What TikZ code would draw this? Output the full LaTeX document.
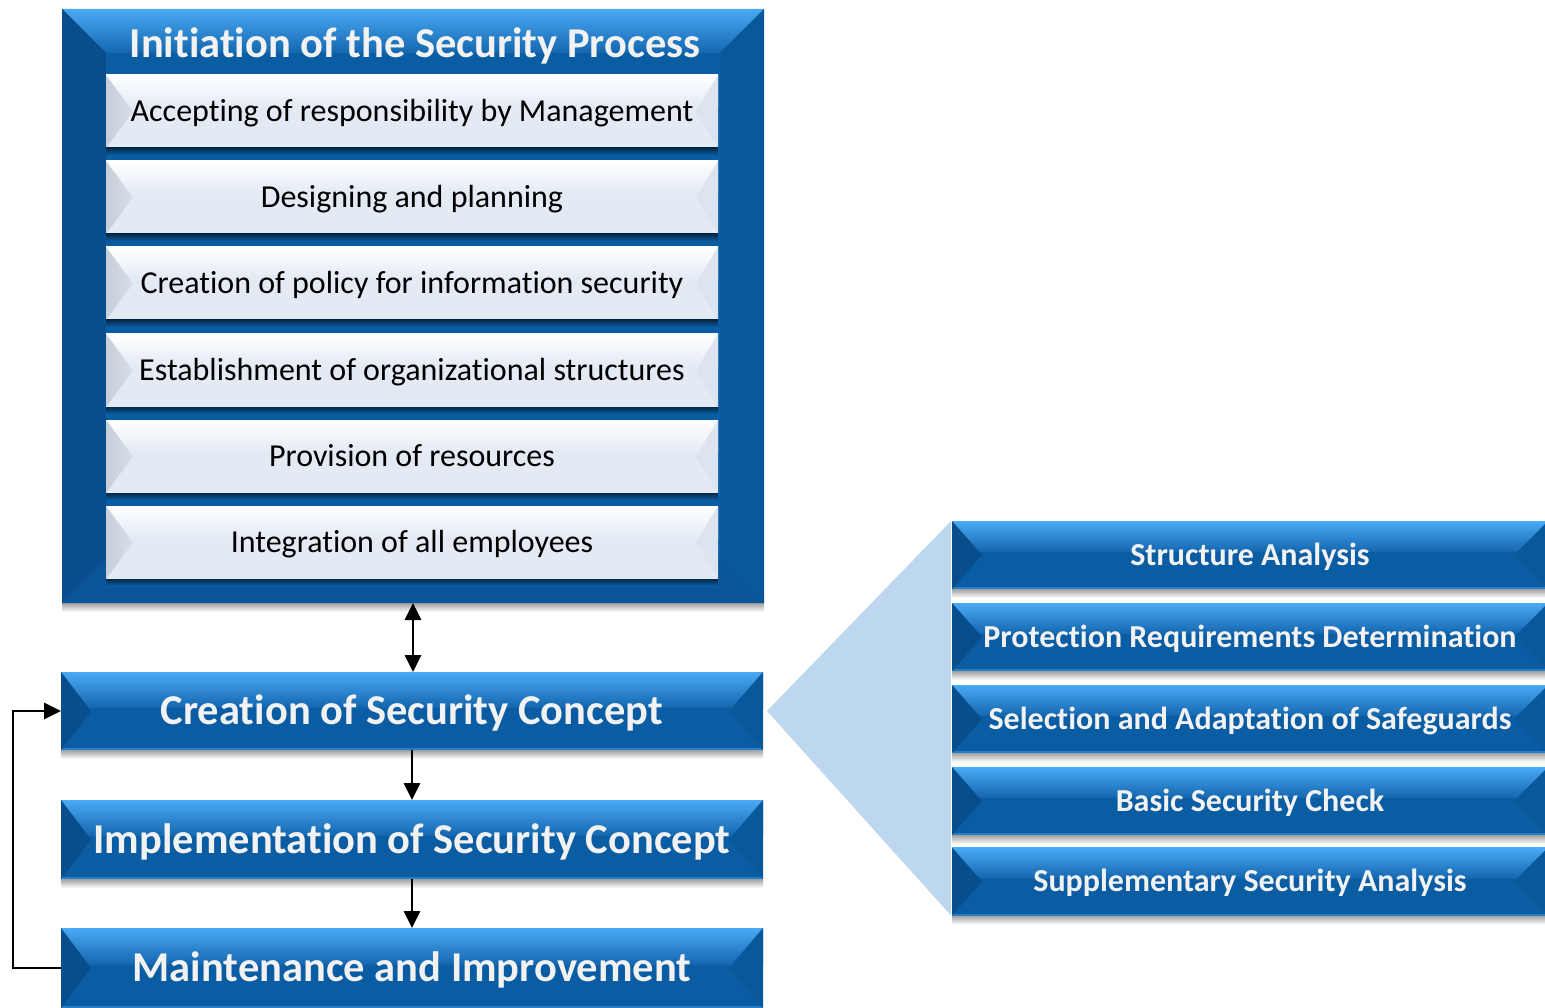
\documentclass[tikz,border=0pt]{standalone}
\usepackage{fontspec}
\setmainfont{Carlito}[Ligatures=NoCommon]
\usetikzlibrary{arrows.meta,calc}
\definecolor{barbase}{HTML}{0A5CA3}
\definecolor{barlight}{HTML}{4AAAF5}
\definecolor{barmid}{HTML}{1467AF}
\definecolor{bardark}{HTML}{084E8D}
\definecolor{barright}{HTML}{0A589C}
\definecolor{barbottom}{HTML}{0A5599}
\definecolor{lbbase}{HTML}{E3EAF4}
\definecolor{lbleft}{HTML}{C5CED9}
\definecolor{lbright}{HTML}{DCE4EF}
\definecolor{callout}{HTML}{BDD7EE}
\definecolor{wtext}{HTML}{F2F2F2}
\tikzset{
 bluebar/.style={inner sep=0pt, outer sep=0pt, text=wtext, fill=barbase,
   path picture={
     \coordinate (pnw) at (path picture bounding box.north west);
     \coordinate (pse) at (path picture bounding box.south east);
     \coordinate (pne) at (path picture bounding box.north east);
     \coordinate (psw) at (path picture bounding box.south west);
     \shade[top color=barlight, bottom color=barmid] (pnw) rectangle ($(pne)!0.45!(pse)$);
     \fill[barlight!45!barbase] ([yshift=2pt]psw) rectangle (pse);
     \fill[bardark] (pnw) -- ($(pnw)!0.5!(psw)+(30,0)$) -- (psw) -- cycle;
     \fill[barright] (pne) -- ($(pne)!0.5!(pse)+(-34,0)$) -- (pse) -- cycle;
   }},
 lightbox/.style={inner sep=0pt, outer sep=0pt, text=black, fill=lbbase,
   minimum width=612pt, minimum height=73pt, font=\fontsize{32}{34}\selectfont,
   text height=20.6pt, text depth=0pt,
   path picture={
     \coordinate (pnw) at (path picture bounding box.north west);
     \coordinate (pse) at (path picture bounding box.south east);
     \coordinate (pne) at (path picture bounding box.north east);
     \coordinate (psw) at (path picture bounding box.south west);
     \shade[top color=white, bottom color=lbbase] (pnw) rectangle ($(pne)!0.45!(pse)$);
     \shade[left color=lbleft, right color=lbbase!60!lbleft] (pnw) -- ($(pnw)!0.5!(psw)+(27,0)$) -- (psw) -- cycle;
     \fill[lbright] (pne) -- ($(pne)!0.5!(pse)+(-22,0)$) -- (pse) -- cycle;
   }},
 sidebar/.style={bluebar, minimum width=596pt, minimum height=68pt, font=\bfseries\fontsize{32}{34}\selectfont, text height=20.6pt, text depth=0pt},
 mainbar/.style={bluebar, minimum width=702pt, font=\bfseries\fontsize{42.5}{44}\selectfont, text height=27.4pt, text depth=0pt},
 arr/.style={line width=2.7pt, -{Triangle[length=17pt,width=16pt]}},
}
\newcommand{\shadowunder}[2]{\shade[top color=#2, bottom color=white] ([yshift=-0.5pt]#1.south west) rectangle ([yshift=-9pt]#1.south east);}
\newcommand{\innershadow}[1]{\shade[top color=black!55!barbase, bottom color=barbase] (#1.south west) rectangle ([yshift=-7pt]#1.south east);}
\begin{document}
\begin{tikzpicture}[x=1pt,y=-1pt]
\useasboundingbox (0,0) rectangle (1545,1008);
% ---------- big box ----------
\node[inner sep=0pt, outer sep=0pt, minimum width=702pt, minimum height=594pt, fill=barbase] (init) at (413,306) {};
\shadowunder{init}{black!35}
\shade[top color=barlight, bottom color=barmid] (init.north west) -- (init.north east) -- ($(init.north east)+(-44,44)$) -- ($(init.north west)+(44,44)$) -- cycle;
\fill[bardark] (init.north west) -- ($(init.north west)+(44,44)$) -- ($(init.south west)+(44,-44)$) -- (init.south west) -- cycle;
\fill[barright] (init.north east) -- ($(init.north east)+(-44,44)$) -- ($(init.south east)+(-44,-44)$) -- (init.south east) -- cycle;
\fill[barbottom] (init.south west) -- ($(init.south west)+(44,-44)$) -- ($(init.south east)+(-44,-44)$) -- (init.south east) -- cycle;
\fill[barbase] ($(init.north west)+(44,44)$) rectangle ($(init.south east)+(-44,-44)$);
\node[font=\bfseries\fontsize{42.5}{44}\selectfont, text=wtext, inner sep=0pt, text height=27.4pt, text depth=0pt] (title) at (415,44) {Initiation of the Security Process};
% ---------- light boxes ----------
\node[lightbox] (a1) at (412,111.5) {Accepting of responsibility by Management};
\node[lightbox] (a2) at (412,197.5) {Designing and planning};
\node[lightbox] (a3) at (412,283.5) {Creation of policy for information security};
\node[lightbox] (a4) at (412,370.5) {Establishment of organizational structures};
\node[lightbox] (a5) at (412,456.5) {Provision of resources};
\node[lightbox] (a6) at (412,542.5) {Integration of all employees};
\foreach \n in {a1,a2,a3,a4,a5,a6} {\innershadow{\n}}
% ---------- main bars ----------
\node[mainbar, minimum height=78pt] (create) at (412,711) {Creation of Security Concept};
\node[mainbar, minimum height=79pt] (impl) at (412,839.5) {Implementation of Security Concept};
\node[mainbar, minimum height=80pt] (maint) at (412,968) {Maintenance and Improvement};
\shadowunder{create}{black!35}
\shadowunder{impl}{black!35}
% ---------- side bars ----------
\node[sidebar] (r1) at (1250,555) {Structure Analysis};
\node[sidebar] (r2) at (1250,637) {Protection Requirements Determination};
\node[sidebar] (r3) at (1250,719) {Selection and Adaptation of Safeguards};
\node[sidebar] (r4) at (1250,801) {Basic Security Check};
\node[sidebar] (r5) at (1250,881.5) {Supplementary Security Analysis};
\foreach \n in {r1,r2,r3,r4,r5} {\shadowunder{\n}{black!35}}
% ---------- callout ----------
\coordinate (tip) at ($(create.east)+(4,0)$);
\fill[callout] (tip) -- ([xshift=-1pt]r1.north west) -- ([xshift=-1pt]r5.south west) -- cycle;
% ---------- connectors ----------
\draw[line width=2.7pt, {Triangle[length=17pt,width=16pt]}-{Triangle[length=17pt,width=16pt]}] (init.south) -- (init.south |- create.north);
\draw[arr] (create.south) -- (impl.north);
\draw[arr] (impl.south) -- (maint.north);
\draw[arr] (maint.west) -- ++(-48,0) |- (create.west);
\end{tikzpicture}
\end{document}
